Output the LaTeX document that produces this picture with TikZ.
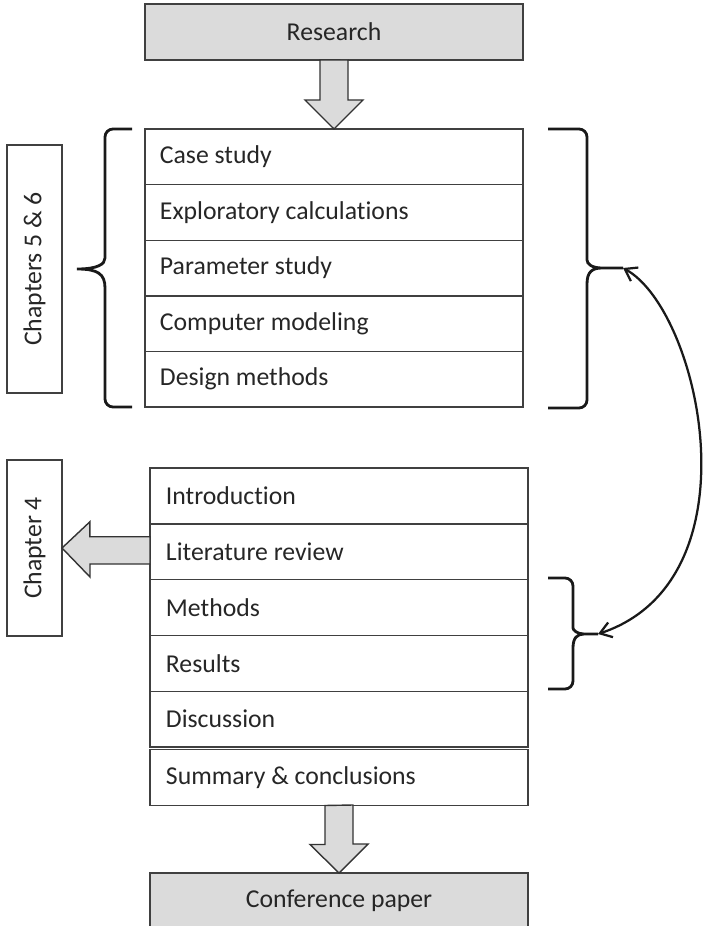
\documentclass[tikz,border=0pt]{standalone}
\usepackage{fontspec}
\setmainfont{Carlito}[Ligatures=NoCommon]
\usetikzlibrary{positioning,calc,arrows.meta}

\tikzset{
  row/.style={draw=black!75, line width=1pt, outer sep=0pt, minimum height=1.39cm, align=flush left},
  uprow/.style={row, text width=8.7cm, inner xsep=0.375cm},
  lowrow/.style={row, text width=8.65cm, inner xsep=0.4cm, minimum height=1.395cm},
  graybox/.style={draw=black!75, line width=1pt, fill=black!14, outer sep=0pt, minimum width=9.45cm, minimum height=1.4cm},
  chapbox/.style={draw=black!75, line width=1pt, rotate=90, minimum height=1.375cm, outer sep=0pt},
  blockarrow/.style={draw=black!80, line width=1pt, fill=black!14, line join=miter},
  bracket/.style={line width=2pt, black!90},
  curvearrow/.style={line width=1.6pt, black!90}
}

\begin{document}
\begin{tikzpicture}[x=0.025cm,y=-0.025cm,>={Straight Barb[length=8pt,width=11pt]},
  font=\fontsize{18.3}{22}\selectfont, text=black!85]

\useasboundingbox (0,0) rectangle (703,926);

% Draw research box
\node[graybox] (research) at (334,32) {Research};

% Draw upper stack
\node[uprow, anchor=north] (case) at (334,129) {Case study};
\node[uprow, below=0pt of case] (explor) {Exploratory calculations};
\node[uprow, below=0pt of explor] (param) {Parameter study};
\node[uprow, below=0pt of param] (model) {Computer modeling};
\node[uprow, below=0pt of model] (design) {Design methods};

% Draw lower stack
\node[lowrow, anchor=north] (intro) at (339,468) {Introduction};
\node[lowrow, below=0pt of intro] (lit) {Literature review};
\node[lowrow, below=0pt of lit] (methods) {Methods};
\node[lowrow, below=0pt of methods] (results) {Results};
\node[lowrow, below=0pt of results] (discuss) {Discussion};
\node[lowrow, below=0.06cm of discuss, minimum height=1.4cm] (summary) {Summary \& conclusions};

% Draw conference box
\node[graybox, anchor=north] (conf) at (339,873) {Conference paper};

% Draw chapter boxes (rotated, so south is the right side)
\node[chapbox, minimum width=6.2cm] (chap56) at (34.5,269) {Chapters 5 \& 6};
\node[chapbox, minimum width=4.4cm] (chap4) at (34.5,548) {Chapter 4};

% Draw block arrows
\draw[blockarrow] ($(research.south)+(-14,0)$) -- ++(0,40) -- ++(-15,0) -- (case.north)
  -- ++(29,-29) -- ++(-15,0) -- ++(0,-40) -- cycle;
\draw[blockarrow] ($(summary.south)+(-14,0)$) -- ++(0,39) -- ++(-15,0) -- (conf.north)
  -- ++(29,-29) -- ++(-15,0) -- ++(0,-39) -- cycle;
\draw[blockarrow] ($(lit.west)+(0,-15)$) -- ++(-60,0) -- ++(0,-15) -- (chap4.south)
  -- ++(28,29) -- ++(0,-13) -- ++(60,0) -- cycle;

% Draw braces
\draw[bracket] (132,129) [rounded corners=0.2cm] -- (105,129) -- (105,250) [sharp corners]
  .. controls (105,264) and (98,269) .. (77,269)
  .. controls (98,269) and (105,274) .. (105,288) [rounded corners=0.2cm] -- (105,407) -- (132,407);
\draw[bracket] (548,129) [rounded corners=0.2cm] -- (587,129) -- (587,252) [sharp corners]
  .. controls (587,264) and (592,268) .. (602,268) -- (623,268) coordinate (tipU)
  -- (602,268) .. controls (592,268) and (587,272) .. (587,284) [rounded corners=0.2cm] -- (587,408) -- (548,408);
\draw[bracket] (548,578) [rounded corners=0.2cm] -- (573,578) -- (573,620) [sharp corners]
  .. controls (573,630) and (577,634) .. (584,634) -- (598,634) coordinate (tipL)
  -- (584,634) .. controls (577,634) and (573,638) .. (573,648) [rounded corners=0.2cm] -- (573,689) -- (548,689);

% Draw link between braces
\draw[<->, curvearrow] (tipU) .. controls (700,310) and (760,580) .. (tipL);

\end{tikzpicture}
\end{document}
